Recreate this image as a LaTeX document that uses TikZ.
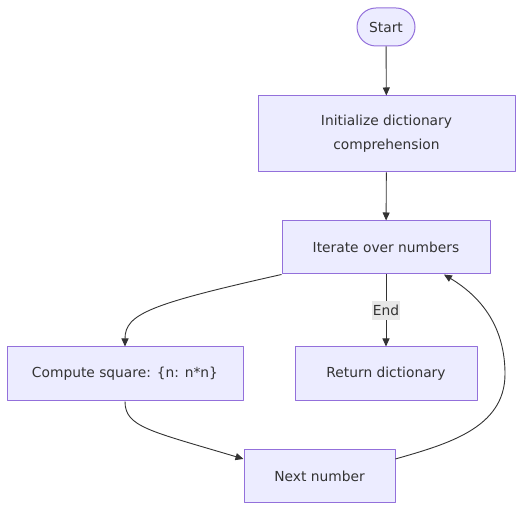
\documentclass[tikz,border=0pt]{standalone}
\usepackage{fontspec}
\setmainfont{DejaVu Sans}
\usetikzlibrary{arrows.meta}
\definecolor{boxfill}{HTML}{ECECFF}
\definecolor{boxline}{HTML}{9370DB}
\definecolor{edgecol}{HTML}{333333}
\definecolor{lblfill}{HTML}{E8E8E8}
\begin{document}
\begin{tikzpicture}[x=1pt,y=1pt,>={Stealth[length=8pt,width=7pt,inset=0pt]},line join=round,font=\fontsize{13.8}{16}\selectfont,
	box/.style={draw=boxline,fill=boxfill,line width=1pt,text=edgecol,align=center,inner sep=0pt},
	flow/.style={->,draw=edgecol,line width=0.9pt},
	lbl/.style={fill=lblfill,text=edgecol,inner xsep=1pt,inner ysep=4pt}]
	\useasboundingbox (0,0) rectangle (530,519);
	\node[box,minimum width=58,minimum height=38,rounded corners=19pt] (start) at (386,492) {Start};
	\node[box,minimum width=257,minimum height=76,font=\fontsize{13.8}{24}\selectfont] (init) at (386.5,385) {Initialize dictionary\\comprehension};
	\node[box,minimum width=208,minimum height=53] (iter) at (386,271.5) {Iterate over numbers};
	\node[box,minimum width=236,minimum height=54] (comp) at (125,145) {Compute square: \{n: n*n\}};
	\node[box,minimum width=182,minimum height=54] (ret) at (386,145) {Return dictionary};
	\node[box,minimum width=151,minimum height=53] (next) at (319.5,42.5) {Next number};
	\draw[flow] (start) -- (init);
	\draw[flow] (init) -- (iter);
	\draw[flow] (iter.south west) .. controls (150,215) and (125,205) .. (comp.north);
	\draw[flow] (iter) -- node[lbl]{End} (ret);
	\draw[flow] (comp.south) .. controls (125,92) and (150,88) .. (next.167);
	\draw[flow] (next.13) to[out=16,in=-90] (505,145) to[out=90,in=-31] (iter.-25);
\end{tikzpicture}
\end{document}
